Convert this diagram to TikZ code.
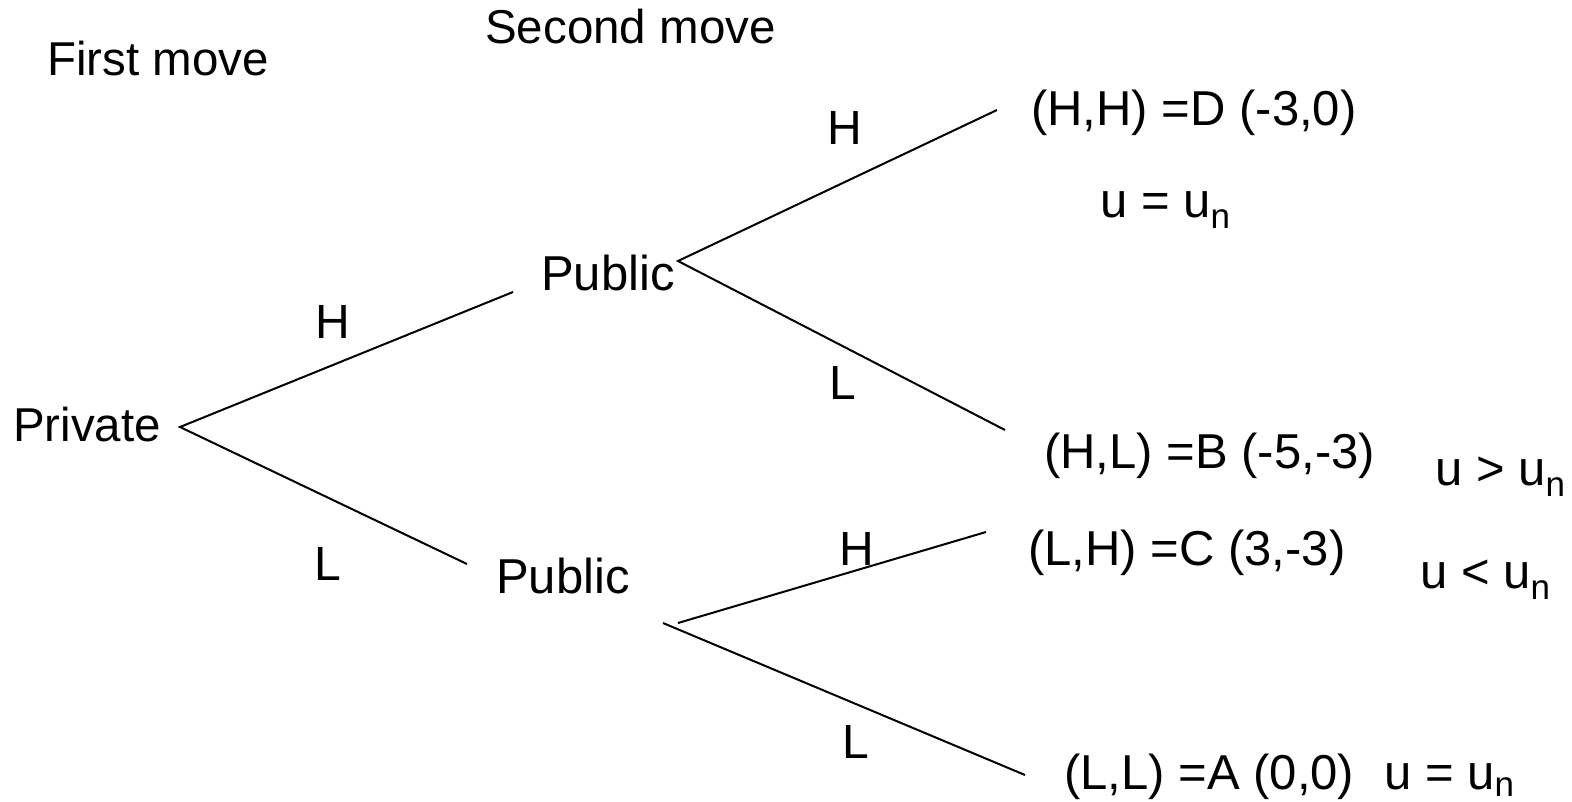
\documentclass[tikz,border=0pt]{standalone}
\usepackage{fontspec}
\setmainfont{Liberation Sans}
\newcommand{\subn}[1][-11pt]{\raisebox{#1}{\fontsize{35}{35}\selectfont n}}
\begin{document}
\begin{tikzpicture}[x=1pt,y=-1pt,
  lbl/.style={anchor=base west,inner sep=0pt,font=\fontsize{47.5}{56}\selectfont},
  big/.style={lbl,font=\fontsize{49}{58}\selectfont},
  mv/.style={anchor=base,inner sep=0pt,font=\fontsize{48}{56}\selectfont},
  branch/.style={line width=2pt}]
\useasboundingbox (0,0) rectangle (1572,801);

% headings
\node[lbl] (first)  at (47,75)  {First move};
\node[lbl] (second) at (485,43) {Second move};

% decision nodes
\node[lbl] (priv) at (13,441)  {Private};
\node[big] (pubH) at (541,290) {Public};
\node[big] (pubL) at (496,593) {Public};

% outcomes
\node[big] (oHH) at (1031,125) {(H,H) =D (-3,0)};
\node[big] (uHH) at (1100,217) {u = u\subn};
\node[big] (oHL) at (1044,468) {(H,L) =B (-5,-3)};
\node[big] (uHL) at (1435,485) {u > u\subn};
\node[big] (oLH) at (1028,565) {(L,H) =C (3,-3)};
\node[big] (uLH) at (1420,588) {u < u\subn};
\node[big] (oLL) at (1064,789) {(L,L) =A (0,0)};
\node[big] (uLL) at (1384,789) {u = u\subn[-7pt]};

% branch end points
\coordinate (p0)  at (180,427);
\coordinate (pH)  at (513,292);
\coordinate (pL)  at (467,564);
\coordinate (q0)  at (678,261);
\coordinate (qHH) at (997,110);
\coordinate (qHL) at (1005,430);
\coordinate (r0)  at (678,623);
\coordinate (r1)  at (663,623);
\coordinate (rLH) at (986,532);
\coordinate (rLL) at (1025,775);

% branches
\draw[branch] (pH) -- (p0) -- (pL);
\draw[branch] (qHH) -- (q0) -- (qHL);
\draw[branch] (r0) -- (rLH);
\draw[branch] (r1) -- (rLL);

% move labels
\node[mv] (mH1) at (333,338) {H};
\node[mv] (mL1) at (328,580) {L};
\node[mv] (mH2) at (845,144) {H};
\node[mv] (mL2) at (843,399) {L};
\node[mv] (mH3) at (857,565) {H};
\node[mv] (mL3) at (856,758) {L};
\end{tikzpicture}
\end{document}
